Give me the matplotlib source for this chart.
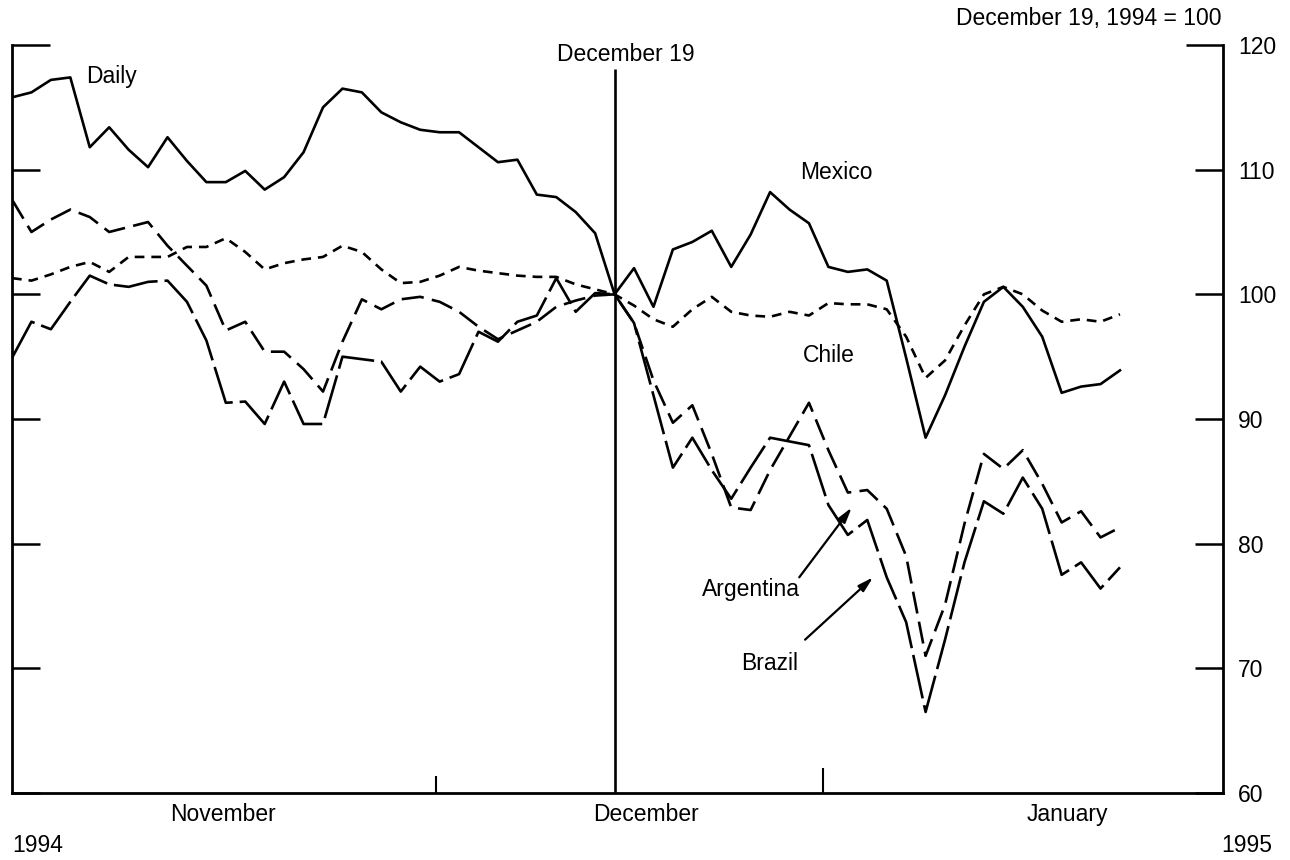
import numpy as np
import matplotlib
matplotlib.use("Agg")
import matplotlib.pyplot as plt

plt.rcParams['font.family'] = ['Liberation Sans', 'DejaVu Sans']
plt.rcParams['lines.scale_dashes'] = False

# daily index values, December 19, 1994 = 100 (trading-day index, Dec 19 = day 31)
DEC19 = 31
mexico = [115.8, 116.2, 117.2, 117.4, 111.8, 113.4, 111.6, 110.2, 112.6, 110.7,
          109.0, 109.0, 109.9, 108.4, 109.4, 111.4, 115.0, 116.5, 116.2, 114.6,
          113.8, 113.2, 113.0, 113.0, 111.8, 110.6, 110.8, 108.0, 107.8, 106.6,
          104.9, 100.0,
          102.1, 99.0, 103.6, 104.2, 105.1, 102.2, 104.8, 108.2, 106.8, 105.7,
          102.2, 101.8, 102.0, 101.1, 94.9, 88.5, 91.9, 95.8, 99.4, 100.6,
          99.0, 96.6, 92.1, 92.6, 92.8, 93.9]
chile = [101.3, 101.1, 101.6, 102.2, 102.6, 101.8, 103.0, 103.0, 103.0, 103.8,
         103.8, 104.5, 103.4, 102.0, 102.5, 102.8, 103.0, 103.9, 103.4, 102.0,
         100.9, 101.0, 101.5, 102.2, 101.9, 101.7, 101.5, 101.4, 101.4, 100.8,
         100.4, 100.0,
         99.1, 98.0, 97.4, 98.8, 99.8, 98.6, 98.3, 98.2, 98.6, 98.3,
         99.3, 99.2, 99.2, 98.8, 96.6, 93.3, 94.7, 97.5, 100.0, 100.6,
         100.0, 98.7, 97.8, 98.0, 97.8, 98.4]
argentina = [107.6, 105.0, 106.0, 106.8, 106.2, 105.0, 105.4, 105.8, 103.9, 102.3,
             100.7, 97.1, 97.8, 95.4, 95.4, 94.0, 92.2, 96.2, 99.6, 98.8,
             99.6, 99.8, 99.4, 98.6, 97.4, 96.4, 97.1, 97.8, 99.0, 99.5,
             99.9, 100.0,
             97.7, 93.1, 89.7, 91.1, 87.2, 82.9, 82.7, 85.9, 88.6, 91.3,
             87.5, 84.1, 84.3, 82.8, 79.0, 71.0, 75.1, 81.6, 87.2, 86.0,
             87.5, 84.8, 81.7, 82.6, 80.5, 81.3]
brazil = [94.9, 97.8, 97.2, 99.4, 101.5, 100.8, 100.6, 101.0, 101.1, 99.4,
          96.3, 91.3, 91.4, 89.6, 93.0, 89.6, 89.6, 95.0, 94.8, 94.6,
          92.2, 94.2, 93.0, 93.6, 97.0, 96.2, 97.8, 98.3, 101.3, 98.6,
          100.1, 100.0,
          97.7, 91.9, 86.1, 88.5, 85.9, 83.6, 86.1, 88.5, 88.2, 87.9,
          83.1, 80.7, 81.9, 77.3, 73.7, 66.5, 72.3, 78.5, 83.4, 82.4,
          85.3, 82.8, 77.5, 78.5, 76.4, 78.1]
days = np.arange(len(mexico))

months = ["November", "December", "January"]
y_major = [60, 70, 80, 90, 100, 110]

fig = plt.figure(figsize=(12.9, 8.6), dpi=100)
ax = fig.add_axes([12 / 1290, 67 / 860, 1211 / 1290, 748 / 860])

LW = 1.9
ax.plot(days, mexico, color="k", lw=LW, solid_joinstyle="round")
ax.plot(days, chile, color="k", lw=LW, ls=(0, (7, 5)))
ax.plot(days, argentina, color="k", lw=LW, ls=(0, (16, 6)))
ax.plot(days, brazil, color="k", lw=LW, ls=(0, (32, 5)))
ax.vlines(DEC19, 60, 118.1, color="k", lw=LW)

ax.set_xlim(0, 62.3)
ax.set_ylim(60, 120)

for s in ("left", "right", "bottom"):
    ax.spines[s].set_linewidth(2.0)
ax.spines["top"].set_visible(False)

# y axis: ticks on both sides, labels on the right, longer cap tick at 120
ax.set_yticks(y_major)
ax.set_yticks([120], minor=True)
ax.set_yticklabels([str(v) for v in y_major])
ax.set_yticklabels(["120"], minor=True)
ax.tick_params(axis="y", which="major", direction="in", length=20, width=1.8,
               left=True, right=True, labelleft=False, labelright=True,
               labelsize=16.5, pad=11)
ax.tick_params(axis="y", which="minor", direction="in", length=27, width=1.8,
               left=True, right=True, labelleft=False, labelright=True,
               labelsize=16.5, pad=11)

# x axis: two small inner ticks, month names as text
ax.set_xticks([41.7])
ax.set_xticks([21.8], minor=True)
ax.tick_params(axis="x", which="major", direction="in", length=18, width=1.5, labelbottom=False)
ax.tick_params(axis="x", which="minor", direction="in", length=12, width=1.5, labelbottom=False)
xt = ax.get_xaxis_transform()
for pos, name in zip([10.85, 32.6, 54.3], months):
    ax.text(pos, -0.0294, name, transform=xt, ha="center", va="center", fontsize=16.5)

fig.text(12 / 1290, 1 - 845 / 860, "1994", ha="left", va="center", fontsize=16.5)
fig.text(1272 / 1290, 1 - 845 / 860, "1995", ha="right", va="center", fontsize=16.5)
fig.text(1222 / 1290, 1 - 18 / 860, "December 19, 1994 = 100", ha="right", va="center", fontsize=16.5)

ax.text(31.6, 119.25, "December 19", ha="center", va="center", fontsize=16.5)
ax.text(5.14, 117.5, "Daily", ha="center", va="center", fontsize=16.5)
ax.text(42.4, 109.8, "Mexico", ha="center", va="center", fontsize=16.5)
ax.text(42.0, 95.1, "Chile", ha="center", va="center", fontsize=16.5)
ax.text(38.0, 76.3, "Argentina", ha="center", va="center", fontsize=16.5)
ax.text(39.0, 70.4, "Brazil", ha="center", va="center", fontsize=16.5)

arrow = dict(arrowstyle="-|>,head_length=0.9,head_width=0.25", color="k", lw=1.6,
             shrinkA=0, shrinkB=0)
ax.annotate("", xy=(43.2, 82.9), xytext=(40.5, 77.3), arrowprops=arrow)
ax.annotate("", xy=(44.3, 77.3), xytext=(40.8, 72.3), arrowprops=arrow)

fig.savefig("out.png", dpi=100, facecolor="white")
